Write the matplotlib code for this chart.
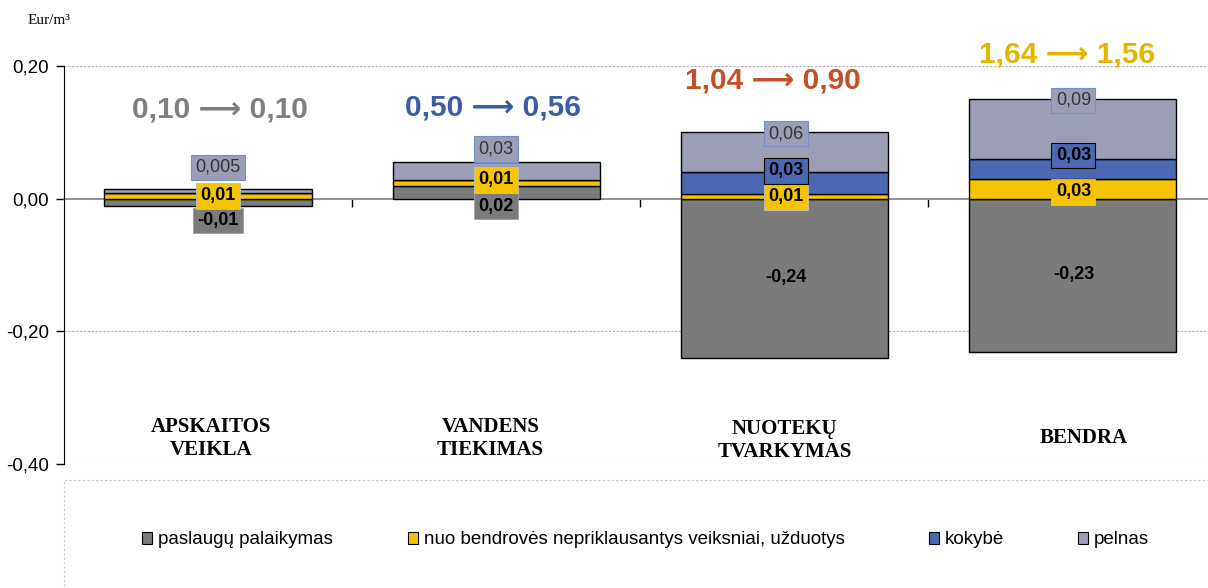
import numpy as np
import matplotlib.pyplot as plt
from matplotlib.patches import Rectangle

# Data
categories = ['APSKAITOS\nVEIKLA', 'VANDENS\nTIEKIMAS', 'NUOTEKŲ\nTVARKYMAS', 'BENDRA']
paslaugu = [-0.0105, 0.019, -0.2395, -0.2305]
veiksniai = [0.009, 0.009, 0.0075, 0.029]
kokybe = [0.0, 0.0, 0.032, 0.031]
pelnas = [0.005, 0.027, 0.061, 0.091]

paslaugu_lbl = ['-0,01', '0,02', '-0,24', '-0,23']
veiksniai_lbl = ['0,01', '0,01', '0,01', '0,03']
kokybe_lbl = [None, None, '0,03', '0,03']
pelnas_lbl = ['0,005', '0,03', '0,06', '0,09']

tariff_from = ['0,10', '0,50', '1,04', '1,64']
tariff_to = ['0,10', '0,56', '0,90', '1,56']

series_names = ['paslaugų palaikymas', 'nuo bendrovės nepriklausantys veiksniai, užduotys',
                'kokybė', 'pelnas']

# Styles
c_gray = '#7b7b7b'
c_yellow = '#f7c400'
c_blue = '#4a69b2'
c_lav = '#9c9eb6'
tariff_colors = ['#7f7f7f', '#3d5ca6', '#c4502b', '#e3b500']

sans = ['Liberation Sans', 'DejaVu Sans']
serif = ['Liberation Serif', 'DejaVu Serif']
plt.rcParams['font.family'] = sans

fig = plt.figure(figsize=(12.08, 5.88), dpi=100)
ax = fig.add_axes([64 / 1208, 124 / 588, 1144 / 1208, 398 / 588])

x = np.arange(len(categories))
w = 0.72
pas = np.array(paslaugu)
yel = np.array(veiksniai)
kok = np.array(kokybe)
pel = np.array(pelnas)

pos_base = np.where(pas > 0, pas, 0)
ax.bar(x, pas, w, color=c_gray, edgecolor='black', linewidth=1, zorder=3, label=series_names[0])
ax.bar(x, yel, w, bottom=pos_base, color=c_yellow, edgecolor='black', linewidth=1, zorder=3,
       label=series_names[1])
ax.bar(x, kok, w, bottom=pos_base + yel, color=c_blue, edgecolor='black', linewidth=1, zorder=3,
       label=series_names[2])
ax.bar(x, pel, w, bottom=pos_base + yel + kok, color=c_lav, edgecolor='black', linewidth=1, zorder=3,
       label=series_names[3])

# label anchor heights (data units)
pas_lab_y = [-0.033, -0.0115, -0.119, -0.1145]
yel_lab_y = [0.0045, 0.0286, 0.003, 0.0105]
kok_lab_y = [None, None, 0.042, 0.065]
pel_lab_y = [0.047, 0.0745, 0.098, 0.148]
lab_dx = [0.035, 0.0, 0.005, 0.003]

lab_fs = 13
box = 'square,pad=0.24'
for i in range(len(categories)):
    lx = x[i] + lab_dx[i]
    big = abs(paslaugu[i]) > 0.1
    ax.text(lx, pas_lab_y[i], paslaugu_lbl[i], ha='center', va='center', fontsize=lab_fs,
            fontweight='bold', zorder=5,
            bbox=None if big else dict(boxstyle=box, fc=c_gray, ec='#a0a0a0', lw=0.6))
    ax.text(lx, yel_lab_y[i], veiksniai_lbl[i], ha='center', va='center', fontsize=lab_fs,
            fontweight='bold', zorder=6,
            bbox=dict(boxstyle=box, fc=c_yellow, ec='#bfbfbf', lw=0.6))
    if kokybe_lbl[i]:
        ax.text(lx, kok_lab_y[i], kokybe_lbl[i], ha='center', va='center', fontsize=lab_fs,
                fontweight='bold', zorder=6,
                bbox=dict(boxstyle=box, fc=c_blue, ec='black', lw=0.8))
    ax.text(lx, pel_lab_y[i], pelnas_lbl[i], ha='center', va='center', fontsize=lab_fs,
            color='#333333', zorder=6,
            bbox=dict(boxstyle=box, fc=c_lav, ec='#6f8fd0', lw=0.8))

# tariff change headers
tariff_y = [0.134, 0.137, 0.178, 0.217]
tariff_dx = [0.04, -0.01, -0.04, -0.02]
for i in range(len(categories)):
    ax.text(x[i] + tariff_dx[i], tariff_y[i], f'{tariff_from[i]} \u27f6 {tariff_to[i]}',
            ha='center', va='center', fontsize=21.5, fontweight='bold',
            color=tariff_colors[i], family=sans, zorder=6)

# category labels inside plot area
cat_y = [-0.3615, -0.3615, -0.365, -0.3615]
cat_dx = [0.01, -0.02, 0.0, 0.04]
for i, c in enumerate(categories):
    ax.text(x[i] + cat_dx[i], cat_y[i], c, ha='center', va='center', fontsize=15,
            fontweight='bold', family=serif, linespacing=1.22)

ax.set_xlim(-0.5, 3.47)
ax.set_ylim(-0.40, 0.20)
ax.set_yticks([0.20, 0.0, -0.20, -0.40])
ax.set_yticklabels(['0,20', '0,00', '-0,20', '-0,40'])
ax.tick_params(axis='y', direction='out', length=6, width=1, labelsize=13.5, pad=5)
for yv in [0.2, -0.2, -0.4]:
    ax.axhline(yv, color='#b8a8b4', lw=0.8, ls=(0, (2, 1.5)), zorder=1)

ax.spines['top'].set_visible(False)
ax.spines['right'].set_visible(False)
ax.spines['left'].set_color('black')
ax.spines['bottom'].set_position(('data', 0))
ax.spines['bottom'].set_color('#7f7f7f')
ax.spines['bottom'].set_linewidth(1.2)
ax.spines['bottom'].set_zorder(2)
ax.set_xticks([0.5, 1.5, 2.5])
ax.set_xticklabels([])
ax.tick_params(axis='x', direction='out', length=6, width=1, color='black')

fig.text(28 / 1208, 1 - 20 / 588, 'Eur/m³', fontsize=11, family=serif, va='center', ha='left')

# legend frame
fig.patches.append(Rectangle((64 / 1208, -0.05), 1.2, (588 - 480) / 588 + 0.05,
                             transform=fig.transFigure, fill=False, ec='#c8c8c8',
                             lw=0.8, ls=(0, (2, 2))))

handles, labels = ax.get_legend_handles_labels()
leg_x = [142, 408, 929, 1078]
for h, l, lx in zip(handles, labels, leg_x):
    lg = fig.legend([h], [l], loc='center left', bbox_to_anchor=(lx / 1208, 1 - 540 / 588),
                    frameon=False, fontsize=13.5, handlelength=0.55, handleheight=0.55,
                    handletextpad=0.3, borderaxespad=0, borderpad=0)
    for p in lg.get_patches():
        p.set_linewidth(0.8)

fig.savefig('out.png', dpi=100)
